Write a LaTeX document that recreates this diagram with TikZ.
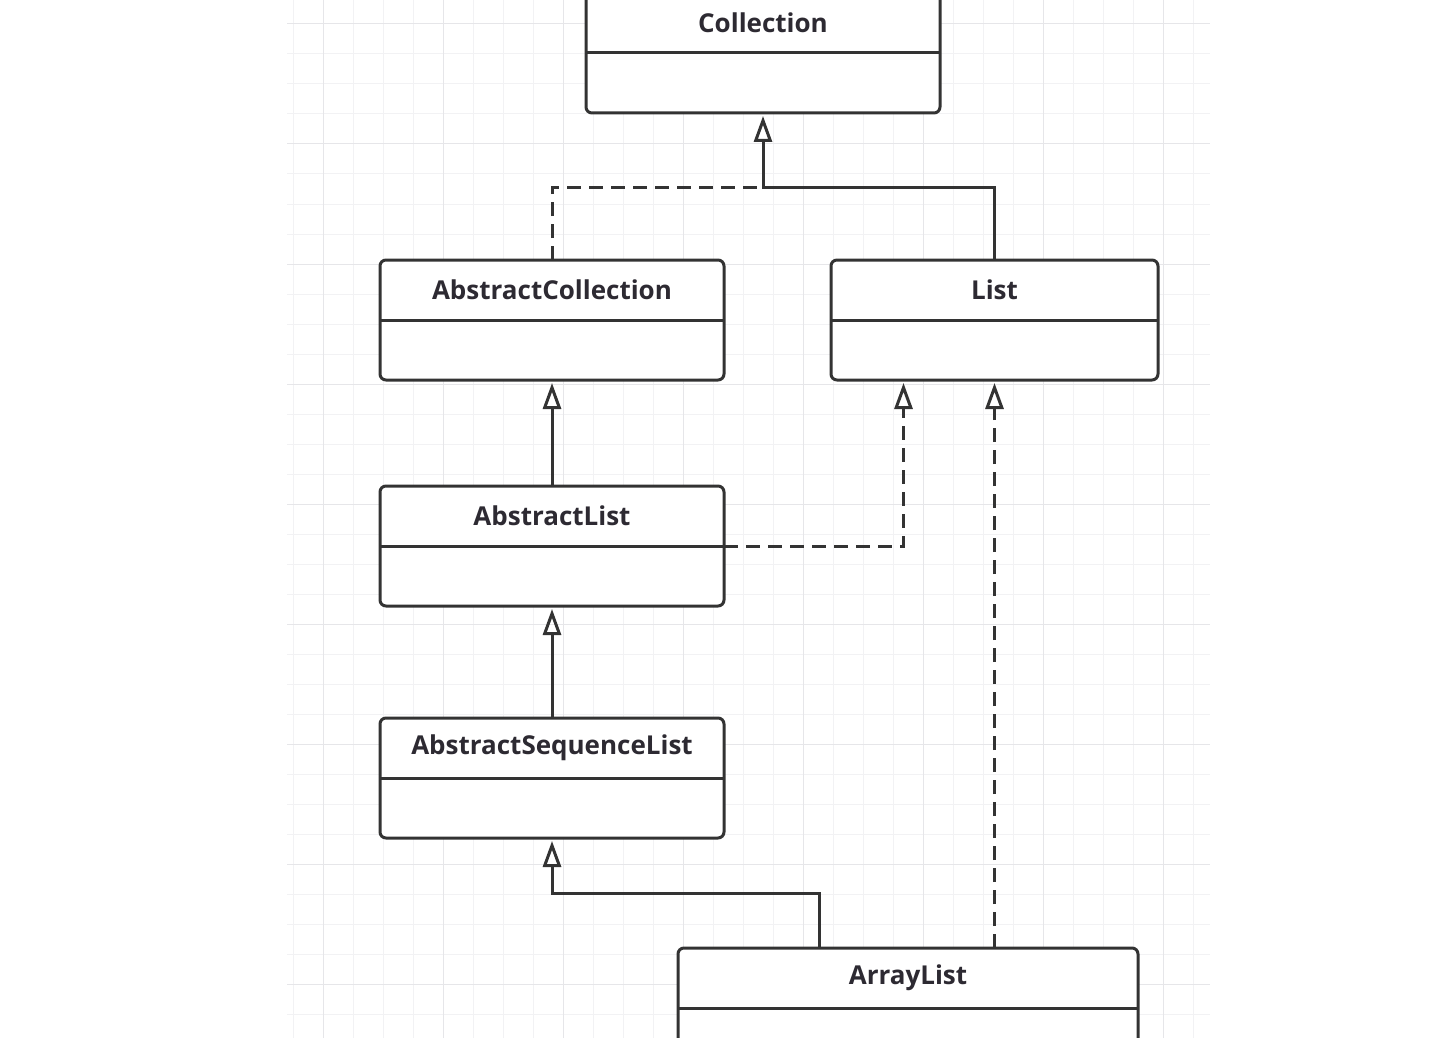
\documentclass[tikz,border=0pt]{standalone}
\usepackage{fontspec}
\setmainfont{Open Sans}
\usetikzlibrary{arrows.meta,calc}

\definecolor{umlline}{RGB}{51,51,51}
\definecolor{umltext}{RGB}{45,42,50}
\definecolor{gridminor}{RGB}{242,242,244}
\definecolor{gridmajor}{RGB}{230,230,233}

\begin{document}
\begin{tikzpicture}[
        x=1pt, y=-1pt,
        class_box/.style={
            rectangle,
            draw=umlline,
            fill=white,
            line width=3pt,
            rounded corners=6pt,
            minimum height=120pt,
            inner sep=0pt,
            outer sep=0pt
        },
        class_name/.style={
            rectangle,
            minimum height=60pt,
            inner sep=0pt,
            outer sep=0pt,
            anchor=north,
            text=umltext,
            font=\bfseries\fontsize{26}{30}\selectfont
        },
        divider/.style={line width=3pt, umlline},
        inherit_arrow/.style={-{Triangle[open,length=26pt,width=18pt]}, shorten >=3pt, line width=3pt, umlline},
        realize_line/.style={line width=3pt, umlline, dash pattern=on 14pt off 8pt},
        realize_arrow/.style={realize_line, -{Triangle[open,length=26pt,width=18pt]}, shorten >=3pt},
        grid_minor/.style={line width=1pt, gridminor},
        grid_major/.style={line width=1pt, gridmajor}
    ]

    % Page and grid
    \useasboundingbox (0,0) rectangle (1430,1038);
    \clip (0,0) rectangle (1430,1038);
    \fill[white] (0,0) rectangle (1430,1038);
    \foreach \gx in {293,323,...,1193} \draw[grid_minor] (\gx,0) -- (\gx,1038);
    \foreach \gy in {24,54,...,1014} \draw[grid_minor] (287,\gy) -- (1210,\gy);
    \foreach \gx in {323,443,...,1163} \draw[grid_major] (\gx,0) -- (\gx,1038);
    \foreach \gy in {24,144,...,984} \draw[grid_major] (287,\gy) -- (1210,\gy);

    % =================================================
    % CLASSES
    % =================================================

    \node[class_box, minimum width=354pt] (C_Coll) at (763,53) {};
    \node[class_name, minimum width=354pt] (N_Coll) at (C_Coll.north) {Collection};
    \draw[divider] (N_Coll.south west) -- (N_Coll.south east);

    \node[class_box, minimum width=344pt] (C_AbsColl) at (552,320) {};
    \node[class_name, minimum width=344pt] (N_AbsColl) at (C_AbsColl.north) {AbstractCollection};
    \draw[divider] (N_AbsColl.south west) -- (N_AbsColl.south east);

    \node[class_box, minimum width=327pt] (C_List) at (994.5,320) {};
    \node[class_name, minimum width=327pt] (N_List) at (C_List.north) {List};
    \draw[divider] (N_List.south west) -- (N_List.south east);

    \node[class_box, minimum width=344pt] (C_AbsList) at (552,546) {};
    \node[class_name, minimum width=344pt] (N_AbsList) at (C_AbsList.north) {AbstractList};
    \draw[divider] (N_AbsList.south west) -- (N_AbsList.south east);

    \node[class_box, minimum width=344pt] (C_AbsSeq) at (552,778) {};
    \node[class_name, minimum width=344pt] (N_AbsSeq) at (C_AbsSeq.north) {AbstractSequenceList};
    \draw[divider] (N_AbsSeq.south west) -- (N_AbsSeq.south east);

    \node[class_box, minimum width=460pt] (C_ArrList) at (908,1008) {};
    \node[class_name, minimum width=460pt] (N_ArrList) at (C_ArrList.north) {ArrayList};
    \draw[divider] (N_ArrList.south west) -- (N_ArrList.south east);

    % =================================================
    % RELATIONS
    % =================================================

    \coordinate (J_Coll) at (763,187);
    \draw[realize_line] (C_AbsColl.north) |- (J_Coll);
    \draw[inherit_arrow] (C_List.north) |- (J_Coll) -- (C_Coll.south);

    \draw[inherit_arrow] (C_AbsList.north) -- (C_AbsColl.south);
    \draw[realize_arrow] (C_AbsList.east) -| ([xshift=-91pt]C_List.south);

    \draw[inherit_arrow] (C_AbsSeq.north) -- (C_AbsList.south);

    \draw[inherit_arrow] ([xshift=-89pt]C_ArrList.north) -- ++(0,-55) -| (C_AbsSeq.south);
    \draw[realize_arrow] (C_ArrList.north -| C_List.south) -- (C_List.south);

\end{tikzpicture}
\end{document}
